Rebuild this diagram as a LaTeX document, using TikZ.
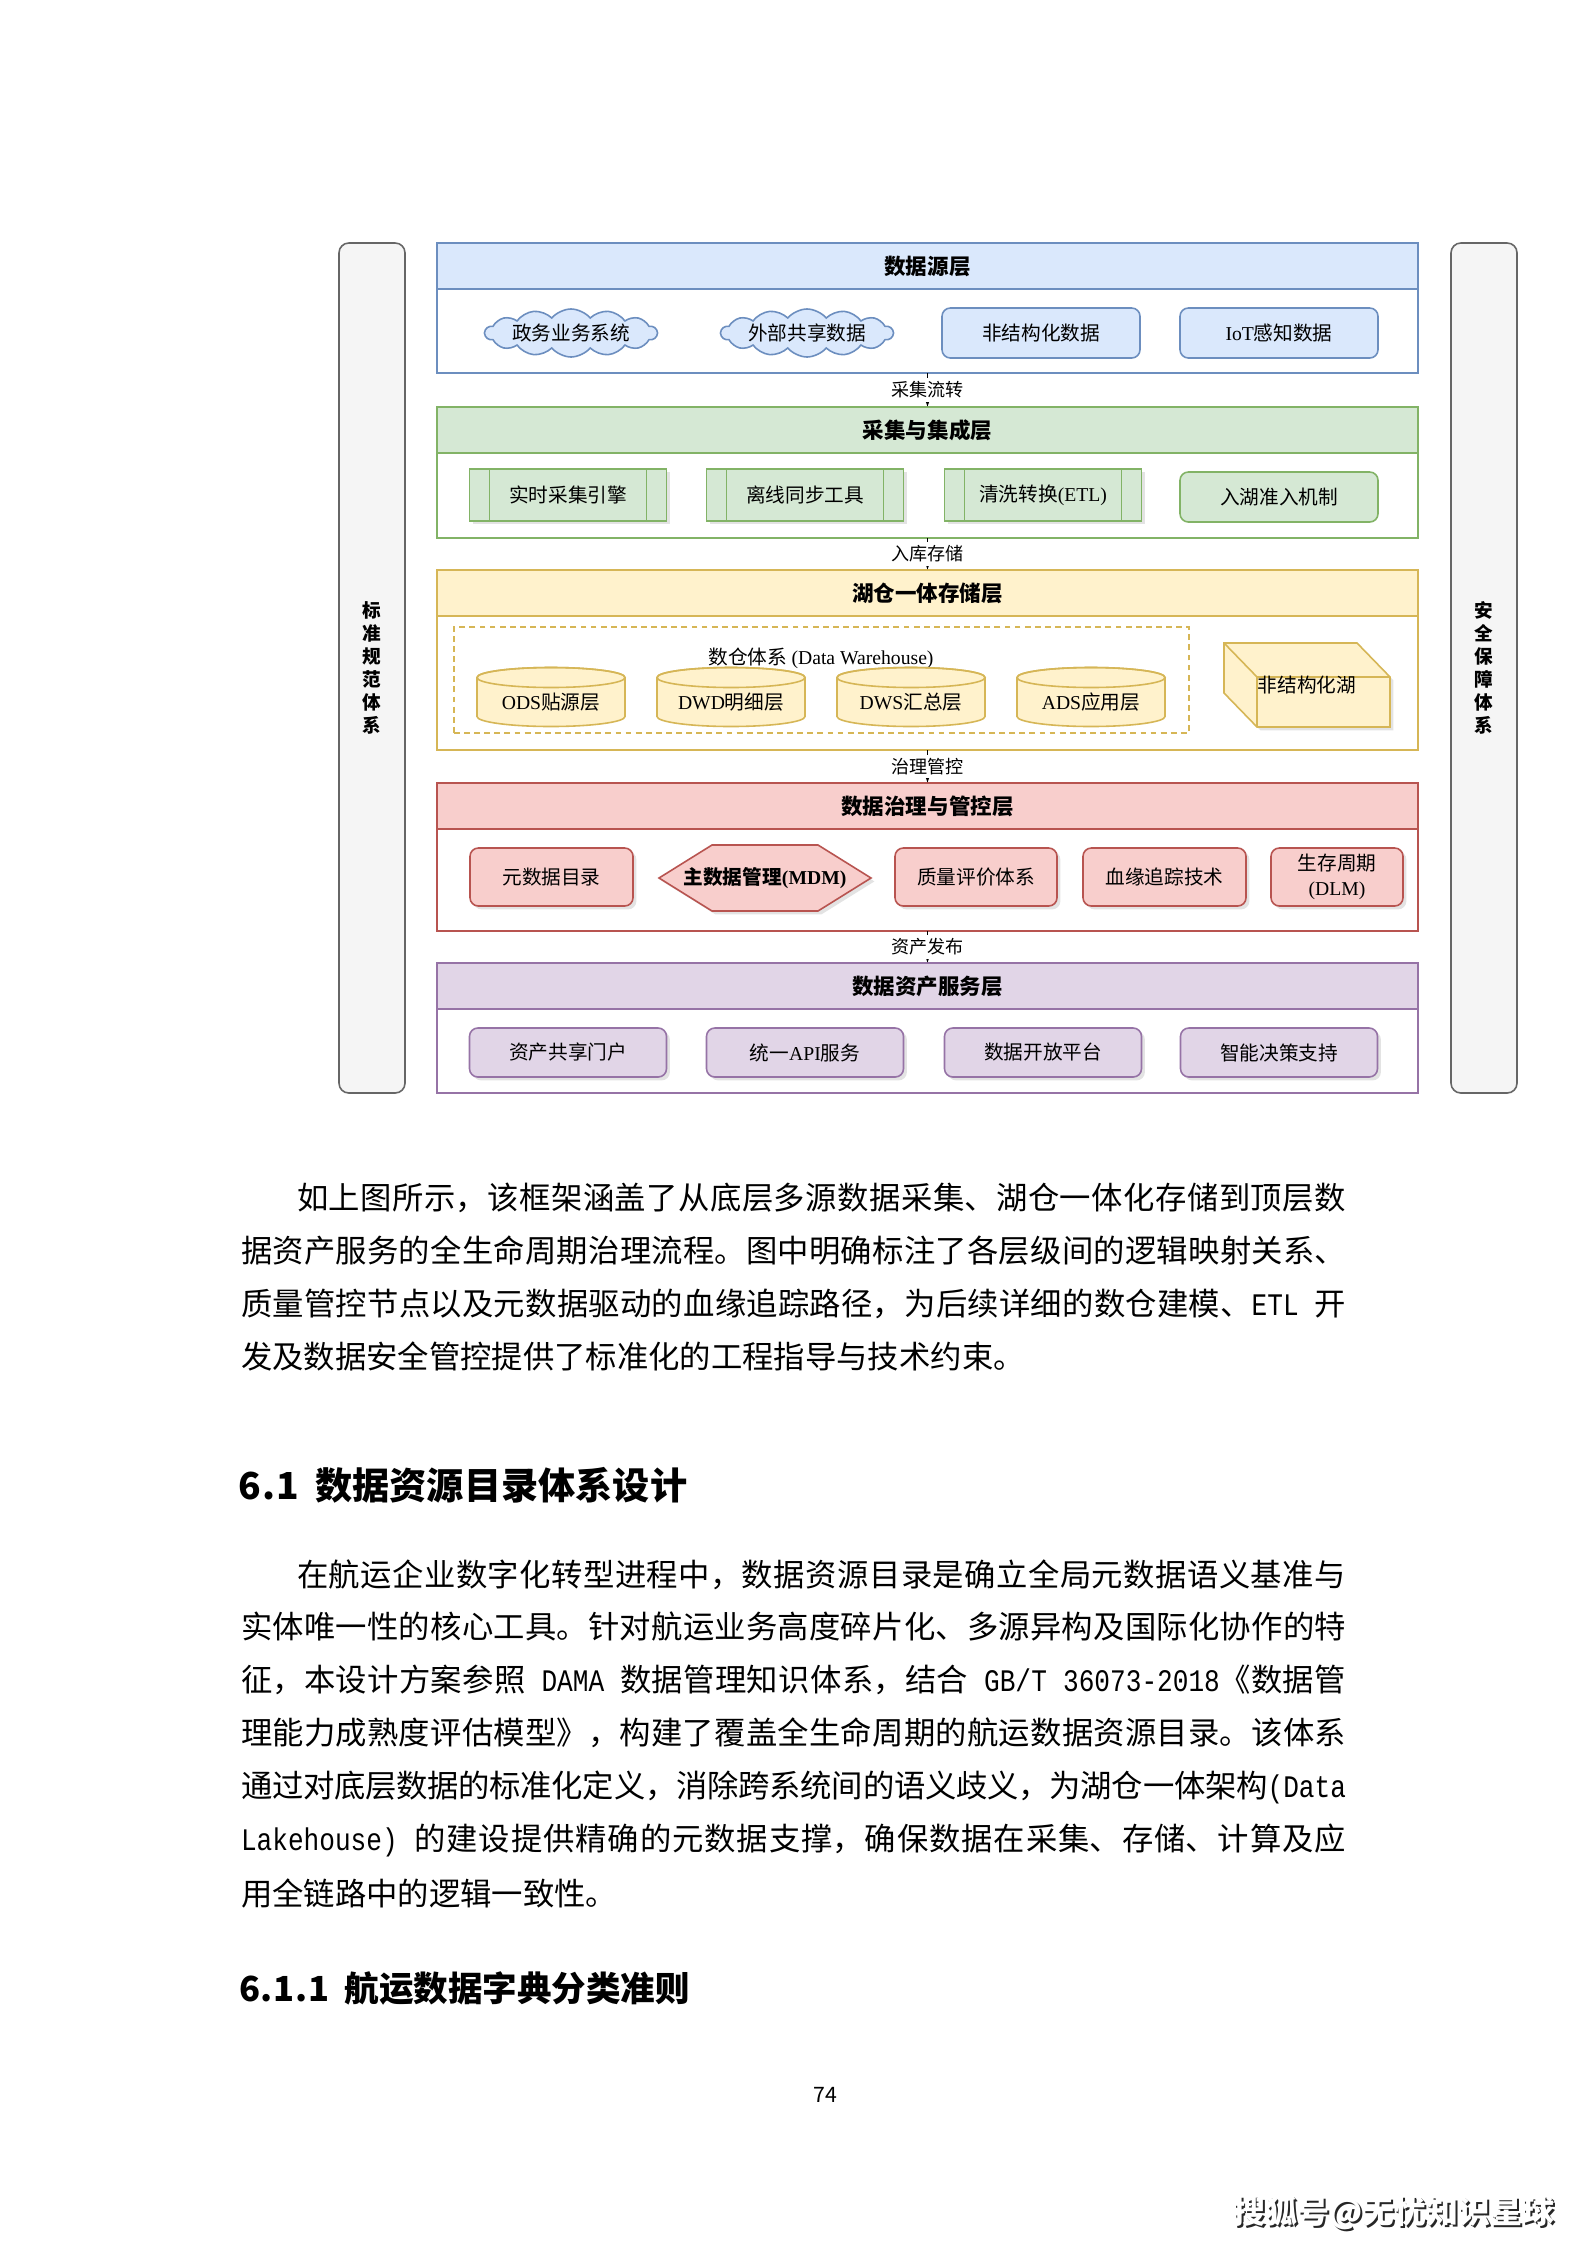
\documentclass[tikz,border=0pt]{standalone}
\usepackage{fontspec}
\setmainfont{Noto Sans CJK SC}
\newfontfamily\tnr{Liberation Serif}
\newfontfamily\monoc[FakeStretch=0.8333]{Liberation Mono}
\usetikzlibrary{shapes.geometric,shapes.symbols,arrows.meta,shadows,calc}
\newlength\pxl \setlength\pxl{0.13229mm}
\XeTeXlinebreaklocale "zh"
\XeTeXlinebreakskip=0pt plus 3pt minus 0.8pt
\definecolor{blueF}{HTML}{DAE8FC}\definecolor{blueS}{HTML}{6C8EBF}
\definecolor{greenF}{HTML}{D5E8D4}\definecolor{greenS}{HTML}{82B366}
\definecolor{yelF}{HTML}{FFF2CC}\definecolor{yelS}{HTML}{D6B656}
\definecolor{redF}{HTML}{F8CECC}\definecolor{redS}{HTML}{B85450}
\definecolor{purF}{HTML}{E1D5E7}\definecolor{purS}{HTML}{9673A6}
\definecolor{grayF}{HTML}{F5F5F5}\definecolor{grayS}{HTML}{666666}
\newcommand\headfont{\fontsize{8.1}{10}\selectfont\bfseries}
\newcommand\itemfont{\fontsize{7.4}{9.2}\selectfont}
\newcommand\lblfont{\fontsize{6.8}{8}\selectfont}
\newcommand\sidefont{\fontsize{7}{8.7}\selectfont\bfseries}
\newcommand\bodyfont{\fontsize{11.8}{14}\selectfont}
\newcommand\hw[1]{\makebox[0.5em][c]{#1}}
\newcommand\jline[2]{\parbox{#1\pxl}{\parindent=0pt\parfillskip=0pt\relax #2}}
\newcommand\cyl[4]{%
  \filldraw[draw=yelS, fill=yelF, line width=0.6pt] (#2-74,#3-19.5) -- (#2-74,#3+19.5)
    arc[start angle=180, end angle=0, x radius=74, y radius=10] -- (#2+74,#3-19.5)
    arc[start angle=0, end angle=-180, x radius=74, y radius=10] -- cycle;
  \draw[yelS, line width=0.6pt] (#2,#3-19.5) ellipse[x radius=74, y radius=10];
  \node[font=\itemfont] (#1) at (#2,#3+5) {#4};
}
\tikzset{
  every node/.style={inner sep=0pt, outer sep=0pt},
  layerbox/.style={draw=#1S, fill=white, line width=0.6pt, minimum width=981*\pxl},
  layerhead/.style={draw=#1S, fill=#1F, line width=0.6pt, minimum width=981*\pxl, minimum height=46*\pxl, font=\headfont},
  rbox/.style={draw=#1S, fill=#1F, line width=0.6pt, rounded corners=1.1mm, font=\itemfont, align=center},
  shad/.style={drop shadow={shadow xshift=0.45mm, shadow yshift=-0.45mm, opacity=0.22}},
  procbox/.style={draw=greenS, fill=greenF, line width=0.6pt, font=\itemfont, shad, minimum width=197*\pxl, minimum height=52*\pxl},
  cloudst/.style={cloud, cloud puffs=14, cloud puff arc=100, cloud ignores aspect, draw=blueS, fill=blueF, line width=0.6pt, minimum width=172*\pxl, minimum height=48*\pxl, font=\itemfont},
  conn/.style={draw=black, line width=0.5pt, -{Latex[length=1.2mm,width=1mm]}},
  lbl/.style={fill=white, font=\lblfont, inner sep=1.2pt},
  side/.style={draw=grayS, fill=grayF, line width=0.6pt, rounded corners=1.3mm, minimum width=66*\pxl, minimum height=850*\pxl, font=\sidefont, align=center},
  bodyline/.style={anchor=west, font=\bodyfont},
}
\begin{document}
\begin{tikzpicture}[x=0.13229mm, y=-0.13229mm]
\useasboundingbox (0,0) rectangle (1587,2245);
\fill[white] (0,0) rectangle (1587,2245);

% side bars
\node[side] (SL) at (372,668) {标\\准\\规\\范\\体\\系};
\node[side] (SR) at (1484,668) {安\\全\\保\\障\\体\\系};

% layers
\node[layerbox=blue, minimum height=130*\pxl] (L1) at (927.5,308) {};
\node[layerhead=blue] (H1) at (927.5,266) {数据源层};
\node[layerbox=green, minimum height=131*\pxl] (L2) at (927.5,472.5) {};
\node[layerhead=green] (H2) at (927.5,430) {采集与集成层};
\node[layerbox=yel, minimum height=180*\pxl] (L3) at (927.5,660) {};
\node[layerhead=yel] (H3) at (927.5,593) {湖仓一体存储层};
\node[layerbox=red, minimum height=148*\pxl] (L4) at (927.5,857) {};
\node[layerhead=red] (H4) at (927.5,806) {数据治理与管控层};
\node[layerbox=pur, minimum height=130*\pxl] (L5) at (927.5,1028) {};
\node[layerhead=pur] (H5) at (927.5,986) {数据资产服务层};

% connectors
\draw[conn] (L1.south) -- (L2.north) node[midway, lbl] (c1) {采集流转};
\draw[conn] (L2.south) -- (L3.north) node[midway, lbl] (c2) {入库存储};
\draw[conn] (L3.south) -- (L4.north) node[midway, lbl] (c3) {治理管控};
\draw[conn] (L4.south) -- (L5.north) node[midway, lbl] (c4) {资产发布};

% row 1: data sources
\node[cloudst] (d1) at (571,333) {政务业务系统};
\node[cloudst] (d2) at (807,333) {外部共享数据};
\node[rbox=blue, minimum width=198*\pxl, minimum height=50*\pxl] (d3) at (1041,333) {非结构化数据};
\node[rbox=blue, minimum width=198*\pxl, minimum height=50*\pxl] (d4) at (1279,333) {{\tnr IoT}感知数据};

% row 2: collection
\node[procbox] (g1) at (568,495) {实时采集引擎};
\node[procbox] (g2) at (805,495) {离线同步工具};
\node[procbox] (g3) at (1043,495) {清洗转换{\tnr(ETL)}};
\foreach \n in {g1,g2,g3}{
  \draw[greenS, line width=0.6pt] ($(\n.north west)+(20,0)$) -- ($(\n.south west)+(20,0)$);
  \draw[greenS, line width=0.6pt] ($(\n.north east)+(-20,0)$) -- ($(\n.south east)+(-20,0)$);
}
\node[rbox=green, minimum width=198*\pxl, minimum height=50*\pxl] (g4) at (1279,497) {入湖准入机制};

% row 3: storage
\node[draw=yelS, line width=0.6pt, dash pattern=on 2.2pt off 1.6pt, minimum width=735*\pxl, minimum height=106*\pxl] (dw) at (821.5,680) {};
\node[font=\itemfont] (dwl) at (821,658) {数仓体系 {\tnr(Data Warehouse)}};
\cyl{ods}{551}{697}{{\tnr ODS}贴源层}
\cyl{dwd}{731}{697}{{\tnr DWD}明细层}
\cyl{dws}{911}{697}{{\tnr DWS}汇总层}
\cyl{ads}{1091}{697}{{\tnr ADS}应用层}
\filldraw[draw=yelS, fill=yelF, line width=0.6pt, shad] (1224,643) -- (1357,643) -- (1390,677) -- (1390,727) -- (1257,727) -- (1224,693) -- cycle;
\draw[yelS, line width=0.6pt] (1224,643) -- (1257,677) -- (1390,677) (1257,677) -- (1257,727);
\node[font=\itemfont] (lake) at (1307,685) {非结构化湖};

% row 4: governance
\node[rbox=red, shad, minimum width=163*\pxl, minimum height=58*\pxl] (r1) at (551.5,877) {元数据目录};
\filldraw[draw=redS, fill=redF, line width=0.6pt, shad] (659,878) -- (712,845) -- (818,845) -- (871,878) -- (818,911) -- (712,911) -- cycle;
\node[font=\itemfont\bfseries] (r2) at (765,878) {主数据管理{\tnr\bfseries(MDM)}};
\node[rbox=red, shad, minimum width=162*\pxl, minimum height=58*\pxl] (r3) at (976,877) {质量评价体系};
\node[rbox=red, shad, minimum width=163*\pxl, minimum height=58*\pxl] (r4) at (1164.5,877) {血缘追踪技术};
\node[rbox=red, shad, minimum width=132*\pxl, minimum height=58*\pxl] (r5) at (1337,877) {生存周期\\{\tnr(DLM)}};

% row 5: services
\node[rbox=pur, shad, minimum width=197*\pxl, minimum height=49*\pxl] (p1) at (568,1052.5) {资产共享门户};
\node[rbox=pur, shad, minimum width=197*\pxl, minimum height=49*\pxl] (p2) at (805,1052.5) {统一{\tnr API}服务};
\node[rbox=pur, shad, minimum width=197*\pxl, minimum height=49*\pxl] (p3) at (1043,1052.5) {数据开放平台};
\node[rbox=pur, shad, minimum width=197*\pxl, minimum height=49*\pxl] (p4) at (1279,1052.5) {智能决策支持};

% body text
\node[bodyline] (a1) at (297,1198) {\jline{1049}{如上图所示，该框架涵盖了从底层多源数据采集、湖仓一体化存储到顶层数}};
\node[bodyline] (a2) at (241,1251) {\jline{1105}{据资产服务的全生命周期治理流程。图中明确标注了各层级间的逻辑映射关系、}};
\node[bodyline] (a3) at (241,1304) {\jline{1105}{质量管控节点以及元数据驱动的血缘追踪路径，为后续详细的数仓建模、{\monoc ETL }开}};
\node[bodyline] (a4) at (241,1356) {发及数据安全管控提供了标准化的工程指导与技术约束。};

\node[anchor=west] (h1) at (241,1485) {\fontsize{14}{16}\selectfont\bfseries \hw{6}\hw{.}\hw{1}\hw{}数据资源目录体系设计};

\node[bodyline] (b1) at (297,1575) {\jline{1049}{在航运企业数字化转型进程中，数据资源目录是确立全局元数据语义基准与}};
\node[bodyline] (b2) at (241,1627) {\jline{1105}{实体唯一性的核心工具。针对航运业务高度碎片化、多源异构及国际化协作的特}};
\node[bodyline] (b3) at (241,1680) {\jline{1105}{征，本设计方案参照{\monoc\ DAMA\ }数据管理知识体系，结合{\monoc\ GB/T 36073-2018}《数据管}};
\node[bodyline] (b4) at (241,1733) {\jline{1105}{理能力成熟度评估模型》，构建了覆盖全生命周期的航运数据资源目录。该体系}};
\node[bodyline] (b5) at (241,1787) {\jline{1105}{通过对底层数据的标准化定义，消除跨系统间的语义歧义，为湖仓一体架构{\monoc(Data}}};
\node[bodyline] (b6) at (241,1840) {\jline{1105}{{\monoc Lakehouse) }的建设提供精确的元数据支撑，确保数据在采集、存储、计算及应}};
\node[bodyline] (b7) at (241,1893) {用全链路中的逻辑一致性。};

\node[anchor=west] (h2) at (241,1988) {\fontsize{13}{15}\selectfont\bfseries \hw{6}\hw{.}\hw{1}\hw{.}\hw{1}\hw{}航运数据字典分类准则};

% footer
\node (pg) at (825,2095) {\fontsize{8}{9}\selectfont 74};
\node[text=black!85] (fts) at (1396,2215) {\fontsize{12}{14}\selectfont\bfseries 搜狐号@无忧知识星球};
\node[text=white] (ft) at (1394,2213) {\fontsize{12}{14}\selectfont\bfseries 搜狐号@无忧知识星球};
\end{tikzpicture}
\end{document}
